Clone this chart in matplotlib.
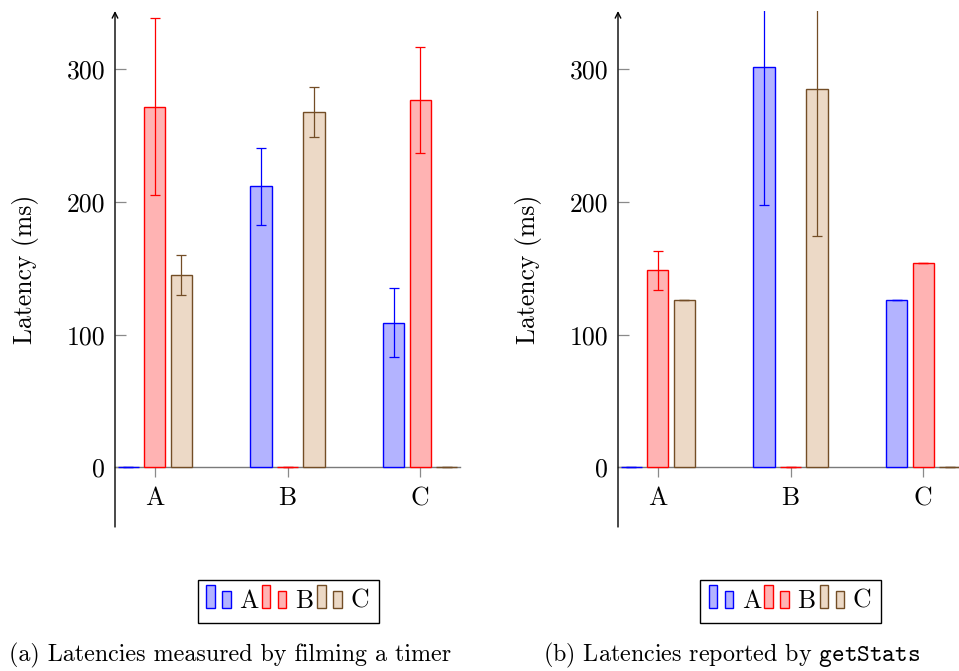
import matplotlib
matplotlib.use("Agg")
import matplotlib.pyplot as plt
from matplotlib.patches import Rectangle
import numpy as np

plt.rcParams["font.family"] = ["cmr10", "DejaVu Serif"]
plt.rcParams["mathtext.fontset"] = "cm"
plt.rcParams["axes.unicode_minus"] = False
plt.rcParams["axes.formatter.use_mathtext"] = True

categories = ["A", "B", "C"]
series_names = ["A", "B", "C"]

# (a) latencies measured by filming a timer
filmed_vals = {
    "A": [0, 212, 109],
    "B": [272, 0, 277],
    "C": [145, 268, 0],
}
filmed_err = {
    "A": [0, 29, 26],
    "B": [67, 0, 40],
    "C": [15, 19, 0],
}

# (b) latencies reported by getStats
stats_vals = {
    "A": [0, 302, 126],
    "B": [148.5, 0, 154],
    "C": [126, 285.5, 0],
}
stats_err = {
    "A": [0, 104, 0],
    "B": [14.5, 0, 0],
    "C": [0, 111, 0],
}

yticks = [0, 100, 200, 300]

edge_cols = {"A": (0, 0, 1), "B": (1, 0, 0), "C": (0.45, 0.30, 0.15)}
fill_cols = {"A": (0.7, 0.7, 1.0), "B": (1.0, 0.7, 0.7), "C": (0.925, 0.85, 0.775)}
offsets = {"A": -0.2, "B": 0.0, "C": 0.2}
bar_w = 0.16

W, H = 959, 671
fig = plt.figure(figsize=(W / 100, H / 100), dpi=100)

FS = 18.5
CAP_FS = 17.3


def draw_panel(ax, vals, errs):
    x = np.arange(len(categories))
    # horizontal axis line at zero
    ax.spines["bottom"].set_position(("data", 0))
    ax.spines["bottom"].set_color("#7a7a7a")
    ax.spines["bottom"].set_linewidth(1.0)
    ax.spines["bottom"].set_zorder(1)
    for s in ("top", "right", "left"):
        ax.spines[s].set_visible(False)
    for name in series_names:
        ax.bar(x + offsets[name], vals[name], width=bar_w,
               color=fill_cols[name], edgecolor=edge_cols[name],
               linewidth=1.0, zorder=2)
        ax.errorbar(x + offsets[name], vals[name], yerr=errs[name],
                    fmt="none", ecolor=edge_cols[name], elinewidth=0.9,
                    capsize=3.8, capthick=0.9, zorder=3)
    ax.set_xlim(-0.3, 2.3)
    ax.set_ylim(-45, 344)
    ax.set_xticks(x)
    ax.set_xticklabels(categories, fontsize=FS)
    ax.set_yticks(yticks)
    ax.set_yticklabels([str(t) for t in yticks], fontsize=FS)
    ax.tick_params(axis="x", direction="out", length=7, width=0.9,
                   color="#8a8a8a", pad=7)
    ax.tick_params(axis="y", direction="in", length=8, width=0.9,
                   color="#8a8a8a", pad=7)
    # vertical axis with arrow head
    ax.annotate("", xy=(0, 1.0), xycoords="axes fraction",
                xytext=(0, 0), textcoords="axes fraction",
                arrowprops=dict(arrowstyle="->", color="black", lw=1.0,
                                shrinkA=0, shrinkB=0, mutation_scale=10),
                annotation_clip=False)
    ax.set_ylabel("Latency (ms)", fontsize=FS, labelpad=20)
    ax.patch.set_alpha(0)


bot = 1 - 527 / H
hgt = 516 / H
wid = 345 / W
ax1 = fig.add_axes([115 / W, bot, wid, hgt])
draw_panel(ax1, filmed_vals, filmed_err)
ax2 = fig.add_axes([618 / W, bot, wid, hgt])
draw_panel(ax2, stats_vals, stats_err)

# overlay in pixel coordinates for legends and captions
ov = fig.add_axes([0, 0, 1, 1], zorder=10)
ov.set_xlim(0, W)
ov.set_ylim(H, 0)
ov.axis("off")
ov.patch.set_alpha(0)


def draw_legend(x0):
    ov.add_patch(Rectangle((x0, 580), 181, 43, fill=False,
                           edgecolor="black", linewidth=1.0))
    pos = x0 + 8.5
    for name in series_names:
        ov.add_patch(Rectangle((pos, 585), 8.5, 22.5,
                               facecolor=fill_cols[name],
                               edgecolor=edge_cols[name], linewidth=1.0))
        ov.add_patch(Rectangle((pos + 16, 591), 8.5, 16.5,
                               facecolor=fill_cols[name],
                               edgecolor=edge_cols[name], linewidth=1.0))
        ov.text(pos + 33.5, 608, name, fontsize=FS, ha="left",
                va="baseline")
        pos += 55.5


draw_legend(197.5)
draw_legend(700)

ov.text(230, 661, "(a) Latencies measured by filming a timer",
        fontsize=CAP_FS, ha="center", va="baseline")
ov.text(732, 661, r"(b) Latencies reported by $\mathtt{getStats}$",
        fontsize=CAP_FS, ha="center", va="baseline")

fig.savefig("out.png", dpi=100)
